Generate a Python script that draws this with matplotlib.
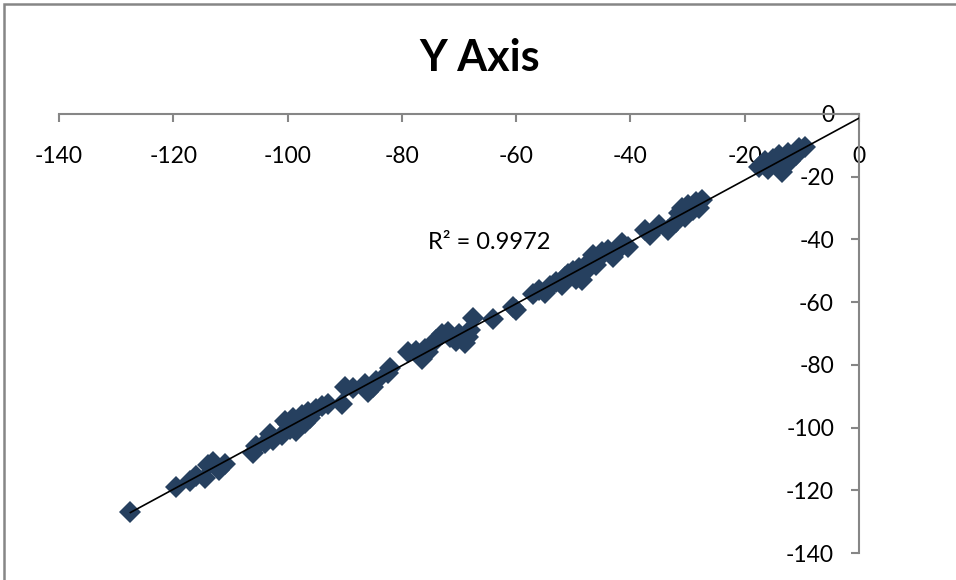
import numpy as np
import matplotlib
matplotlib.use("Agg")
import matplotlib.pyplot as plt
from matplotlib.patches import Rectangle

# puntos (x, y)
x_vals = [-127.5,
          -119.5, -117.0, -116.0, -114.5, -114.0, -113.0, -111.0, -112.0,
          -106.0, -105.5, -104.0, -102.5, -101.0, -100.5, -99.5, -99.0, -98.0,
          -97.5, -97.0, -96.5, -96.0, -95.0, -94.0, -93.0, -103.0, -100.0, -98.5,
          -90.5, -90.0, -88.5, -86.5, -86.0, -85.0, -84.5,
          -82.5, -82.0, -79.0, -77.5, -76.5, -75.5, -76.0,
          -74.0, -73.0, -72.0, -71.5, -70.5, -70.0, -69.0, -68.5, -68.0, -67.5,
          -64.0, -60.5, -60.0, -57.0, -56.0, -55.0, -54.0, -53.0, -52.0, -51.5,
          -51.0, -50.0, -49.5, -49.0, -48.5, -48.0, -47.5, -46.5, -46.0, -45.5,
          -45.0, -44.0, -43.0, -42.5, -41.5, -40.5,
          -37.5, -36.5, -35.0, -33.5, -32.0, -31.5, -31.0, -30.5, -30.0, -29.5,
          -29.0, -28.5, -28.0, -27.5,
          -17.5, -16.5, -16.0, -15.0, -14.5, -14.0, -13.5, -13.0, -12.5, -12.0,
          -11.0, -10.5, -9.5]
y_vals = [-127.0,
          -119.0, -117.0, -115.5, -116.0, -112.0, -111.0, -111.5, -113.5,
          -108.0, -106.0, -105.0, -104.0, -102.5, -98.0, -100.5, -97.0, -99.0,
          -96.0, -98.5, -95.0, -97.0, -94.0, -93.0, -92.5, -102.0, -99.0, -101.0,
          -92.5, -87.0, -87.5, -86.0, -88.5, -87.0, -85.0,
          -82.5, -81.0, -76.0, -75.5, -78.0, -76.0, -75.0,
          -72.0, -70.0, -69.5, -71.0, -72.5, -70.0, -73.0, -71.0, -69.0, -65.0,
          -65.5, -61.5, -62.5, -57.5, -56.0, -57.0, -55.0, -53.5, -54.5, -52.0,
          -51.0, -50.0, -52.5, -49.0, -53.0, -50.5, -47.5, -45.0, -48.0, -46.0,
          -44.0, -43.5, -45.5, -44.0, -41.0, -42.5,
          -37.0, -38.5, -35.5, -37.0, -34.5, -31.5, -30.0, -33.0, -29.0, -31.0,
          -30.5, -28.0, -30.0, -27.5,
          -17.0, -15.0, -17.5, -14.5, -16.0, -13.0, -18.5, -14.0, -12.5, -15.0,
          -13.0, -11.0, -10.5]
ticks = [-140, -120, -100, -80, -60, -40, -20, 0]
r2_texto = "R² = 0.9972"

x = np.array(x_vals)
y = np.array(y_vals)

plt.rcParams['font.family'] = ['Lato', 'DejaVu Sans']
plt.rcParams['axes.unicode_minus'] = False

fig = plt.figure(figsize=(9.56, 5.8), dpi=100)
ax = fig.add_axes([59/956, 27/580, 800/956, 439/580])

gris = '#868686'
ax.plot(x, y, linestyle='none', marker='D', markersize=11,
        color='#26405F', markeredgewidth=0, zorder=2)

# linea de tendencia
m, b = np.polyfit(x, y, 1)
xt = np.array([x.min(), 0])
ax.plot(xt, m * xt + b, color='black', linewidth=1.2, zorder=3)

ax.text(-64.8, -41, r2_texto, fontsize=17, ha='center', va='center')

ax.set_xlim(-140, 0)
ax.set_ylim(-140, 0)
ax.set_xticks(ticks)
ax.set_yticks(ticks)

ax.spines['bottom'].set_position(('data', 0))
ax.spines['left'].set_position(('data', 0))
ax.spines['top'].set_visible(False)
ax.spines['right'].set_visible(False)
for s in ['bottom', 'left']:
    ax.spines[s].set_color(gris)
    ax.spines[s].set_linewidth(1.5)

ax.tick_params(axis='x', direction='out', length=6, width=1.5, color=gris,
               labelsize=16.5, pad=17)
ax.tick_params(axis='y', direction='out', length=6, width=1.5, color=gris,
               labelsize=16.5, pad=12)
ax.set_facecolor('none')

fig.suptitle('Y Axis', fontsize=31, fontweight='bold', x=480/956, y=1 - 58/580,
             va='center')

marco = Rectangle((4/956, -0.2), 1.2, 1.2 - 4/580, transform=fig.transFigure,
                  fill=False, edgecolor=gris, linewidth=1.8, clip_on=False)
fig.patches.append(marco)

fig.savefig('out.png', dpi=100)
